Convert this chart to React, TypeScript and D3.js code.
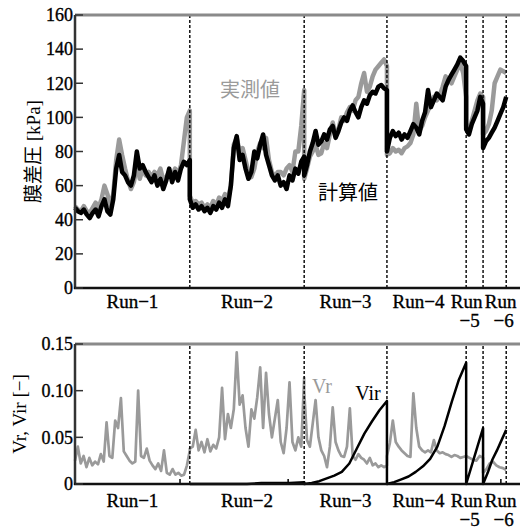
import React from 'react';
import * as d3 from 'd3';

// run names (two-line labels for the short runs)
const runLabels = [['Run−1'], ['Run−2'], ['Run−3'], ['Run−4'], ['Run', '−5'], ['Run', '−6']];
// run boundaries on the elapsed-time axis (arbitrary units)
const runEdges = [0, 25.8, 51.5, 70.1, 87.9, 91.7, 96.9];
const tMax = 100;

// membrane pressure difference [kPa], measured, per run
const dpMeasured = [
  [48, 46, 45, 48, 45, 44, 47, 50, 47, 52, 60, 55, 48, 55, 75, 87, 78, 70, 63, 58, 62, 72, 64, 70, 66, 68, 65, 68, 66, 70, 63, 65, 68, 66, 70, 67, 72, 86, 100, 104],
  [54, 50, 51, 49, 50, 47, 49, 47, 51, 48, 53, 51, 55, 52, 60, 84, 88, 80, 82, 75, 68, 65, 70, 80, 85, 82, 88, 75, 68, 65, 68, 68, 66, 70, 72, 68, 80, 80, 95, 116],
  [64, 70, 77, 80, 84, 78, 79, 85, 82, 90, 97, 90, 93, 100, 98, 103, 106, 104, 110, 112, 120, 126, 115, 118, 124, 128, 130, 132, 134, 130],
  [78, 79, 82, 80, 81, 79, 82, 83, 85, 90, 108, 92, 95, 100, 104, 108, 112, 110, 113, 118, 124, 122, 120, 124, 128, 132, 126, 112],
  [95, 92, 98, 104, 110, 114, 112],
  [90, 92, 96, 104, 120, 124, 128, 127, 126],
];

// membrane pressure difference [kPa], calculated, per run
const dpCalculated = [
  [47, 45, 44, 46, 43, 41, 44, 46, 42, 48, 52, 45, 43, 52, 70, 78, 68, 66, 62, 60, 66, 80, 70, 72, 68, 65, 62, 66, 60, 64, 58, 63, 70, 62, 68, 63, 70, 74, 72, 75],
  [52, 47, 49, 46, 48, 45, 47, 44, 48, 46, 50, 47, 52, 48, 60, 82, 89, 75, 78, 70, 64, 68, 80, 76, 84, 90, 78, 72, 66, 63, 66, 60, 62, 58, 66, 63, 70, 67, 74, 77],
  [66, 72, 80, 85, 92, 84, 86, 90, 87, 93, 95, 88, 92, 97, 100, 98, 104, 107, 103, 100, 106, 110, 108, 113, 115, 114, 118, 119, 117, 116],
  [80, 88, 92, 89, 91, 87, 90, 88, 92, 96, 94, 90, 98, 103, 116, 106, 110, 114, 112, 110, 118, 122, 125, 128, 131, 135, 133, 130],
  [93, 90, 96, 100, 104, 112, 108],
  [82, 86, 88, 91, 94, 98, 102, 106, 112],
];

// Vr [-] per run
const vrValues = [
  [0.025, 0.040, 0.022, 0.030, 0.018, 0.028, 0.020, 0.024, 0.021, 0.032, 0.024, 0.066, 0.030, 0.028, 0.068, 0.060, 0.092, 0.035, 0.030, 0.025, 0.022, 0.024, 0.100, 0.030, 0.028, 0.038, 0.025, 0.020, 0.016, 0.022, 0.014, 0.036, 0.012, 0.010, 0.016, 0.010, 0.012, 0.009, 0.010, 0.020, 0.036],
  [0.038, 0.040, 0.058, 0.036, 0.045, 0.034, 0.048, 0.035, 0.042, 0.038, 0.050, 0.103, 0.048, 0.075, 0.060, 0.080, 0.141, 0.085, 0.095, 0.060, 0.040, 0.080, 0.070, 0.093, 0.125, 0.060, 0.119, 0.075, 0.050, 0.070, 0.090, 0.045, 0.033, 0.060, 0.109, 0.045, 0.036, 0.050, 0.040, 0.114],
  [0.100, 0.047, 0.040, 0.065, 0.090, 0.050, 0.036, 0.030, 0.018, 0.040, 0.082, 0.045, 0.036, 0.030, 0.029, 0.040, 0.081, 0.030, 0.026, 0.032, 0.028, 0.026, 0.022, 0.028, 0.020, 0.022, 0.018, 0.020, 0.018, 0.020],
  [0.030, 0.044, 0.068, 0.045, 0.040, 0.036, 0.033, 0.030, 0.029, 0.097, 0.060, 0.040, 0.036, 0.034, 0.036, 0.034, 0.047, 0.036, 0.033, 0.034, 0.032, 0.031, 0.029, 0.031, 0.030, 0.028, 0.029, 0.030],
  [0.030, 0.028, 0.026, 0.025, 0.030, 0.028],
  [0.012, 0.016, 0.022, 0.024, 0.020, 0.018, 0.017, 0.015],
];

// Vir [-] per run
const virValues = [
  [],
  [0, 0, 0, 0, 0, 0.001, 0.001, 0.001, 0.002],
  [0, 0.001, 0.003, 0.006, 0.009, 0.013, 0.022, 0.038, 0.054, 0.067, 0.079, 0.089],
  [0, 0.002, 0.005, 0.008, 0.013, 0.019, 0.027, 0.040, 0.062, 0.088, 0.112, 0.130],
  [0, 0.020, 0.040, 0.060],
  [0, 0.012, 0.026, 0.036, 0.047, 0.058],
];

const dpTicks = [0, 20, 40, 60, 80, 100, 120, 140, 160];
const vTicks = [0, 0.05, 0.1, 0.15];
const vTickLabels = ['0', '0.05', '0.10', '0.15'];
const bottomMarks = [23.6, 47.9, 95.7];

const W = 520;
const H = 531;
const GRAY = '#9a9a9a';
const SERIF = '"Liberation Serif", "Noto Sans CJK JP", serif';
const JP = '"Noto Sans CJK JP", sans-serif';

type Pt = { t: number; v: number };

function toPoints(runs: number[][]): Pt[] {
  const pts: Pt[] = [];
  runs.forEach((arr, k) => {
    if (arr.length < 2) return;
    const t0 = runEdges[k];
    const step = (runEdges[k + 1] - t0) / (arr.length - 1);
    arr.forEach((v, i) => pts.push({ t: t0 + i * step, v }));
  });
  return pts;
}

const x = d3.scaleLinear().domain([0, tMax]).range([75, 520]);
const yTop = d3.scaleLinear().domain([0, 160]).range([288, 15]);
const yBot = d3.scaleLinear().domain([0, 0.15]).range([484, 344]);

// label offsets so the narrow runs at the end do not collide
const labelShift = [0, 0, 0, -8, -8, 6];

// heavier serif text, closer to the scanned original
const heavy = { stroke: '#000', strokeWidth: 0.35 };

function Panel({ y, ticks, tickLabels, label, labelX, labelY0, children }: any) {
  const [y0, y1] = y.range();
  return (
    <g>
      {children}
      {runEdges.slice(1).map((e: number, i: number) => (
        <line key={i} x1={x(e)} x2={x(e)} y1={y0} y2={y1} stroke="#000" strokeWidth={1.4} strokeDasharray="3,2" />
      ))}
      <line x1={75} x2={W} y1={y1} y2={y1} stroke="#8a8a8a" strokeWidth={3} />
      <line x1={75} x2={75} y1={y1} y2={y0 + 1} stroke="#333" strokeWidth={2.5} />
      <line x1={74} x2={W} y1={y0} y2={y0} stroke="#111" strokeWidth={2.5} />
      {ticks.map((t: number, i: number) => (
        <g key={i}>
          <line x1={75} x2={83} y1={y(t)} y2={y(t)} stroke="#333" strokeWidth={1.5} />
          <text x={73} y={y(t)} dy="0.35em" textAnchor="end" fontFamily={SERIF} fontSize={18} fill="#000" {...heavy}>
            {tickLabels[i]}
          </text>
        </g>
      ))}
      <text
        transform={`translate(${labelX},${(y0 + y1) / 2}) rotate(-90)`}
        textAnchor="middle"
        fontFamily={SERIF}
        fontSize={19}
        fill="#000"
      >
        {label}
      </text>
      {runLabels.map((lines, i) => {
        const cx = x((runEdges[i] + runEdges[i + 1]) / 2) + labelShift[i];
        return (
          <text key={i} x={cx} y={labelY0} textAnchor="middle" fontFamily={SERIF} fontSize={19} fill="#000" {...heavy}>
            {lines.map((s, j) => (
              <tspan key={j} x={cx + (j > 0 ? 3 : 0)} dy={j === 0 ? 0 : 19}>
                {s}
              </tspan>
            ))}
          </text>
        );
      })}
    </g>
  );
}

export default function App() {
  const lineTop = d3.line<Pt>().x((d) => x(d.t)).y((d) => yTop(d.v));
  const lineBot = d3.line<Pt>().x((d) => x(d.t)).y((d) => yBot(d.v));

  return (
    <svg
      width={W}
      height={H}
      xmlns="http://www.w3.org/2000/svg"
      style={{ position: 'absolute', left: 0, top: 0, background: '#fff' }}
    >
      <Panel
        y={yTop}
        ticks={dpTicks}
        tickLabels={dpTicks.map(String)}
        label="膜差圧 [kPa]"
        labelX={40}
        labelY0={308}
      >
        <path d={lineTop(toPoints(dpMeasured)) || ''} fill="none" stroke={GRAY} strokeWidth={4.5} strokeLinejoin="round" />
        <path d={lineTop(toPoints(dpCalculated)) || ''} fill="none" stroke="#000" strokeWidth={4.5} strokeLinejoin="round" />
      </Panel>
      <Panel
        y={yBot}
        ticks={vTicks}
        tickLabels={vTickLabels}
        label="Vr, Vir [−]"
        labelX={26}
        labelY0={507}
      >
        <path d={lineBot(toPoints(vrValues)) || ''} fill="none" stroke={GRAY} strokeWidth={2.7} strokeLinejoin="round" />
        <path d={lineBot(toPoints(virValues)) || ''} fill="none" stroke="#000" strokeWidth={2.5} strokeLinejoin="round" />
        {bottomMarks.map((m, i) => (
          <line key={i} x1={x(m)} x2={x(m)} y1={484} y2={479} stroke="#000" strokeWidth={1.5} />
        ))}
      </Panel>
      <text x={250} y={97} textAnchor="middle" fontFamily={JP} fontSize={20} fill={GRAY}>
        実測値
      </text>
      <text x={348} y={200} textAnchor="middle" fontFamily={JP} fontSize={20} fill="#000">
        計算値
      </text>
      <text x={322} y={393} textAnchor="middle" fontFamily={SERIF} fontSize={20} fill={GRAY}>
        Vr
      </text>
      <text x={368} y={400} textAnchor="middle" fontFamily={SERIF} fontSize={20} fill="#000">
        Vir
      </text>
    </svg>
  );
}
